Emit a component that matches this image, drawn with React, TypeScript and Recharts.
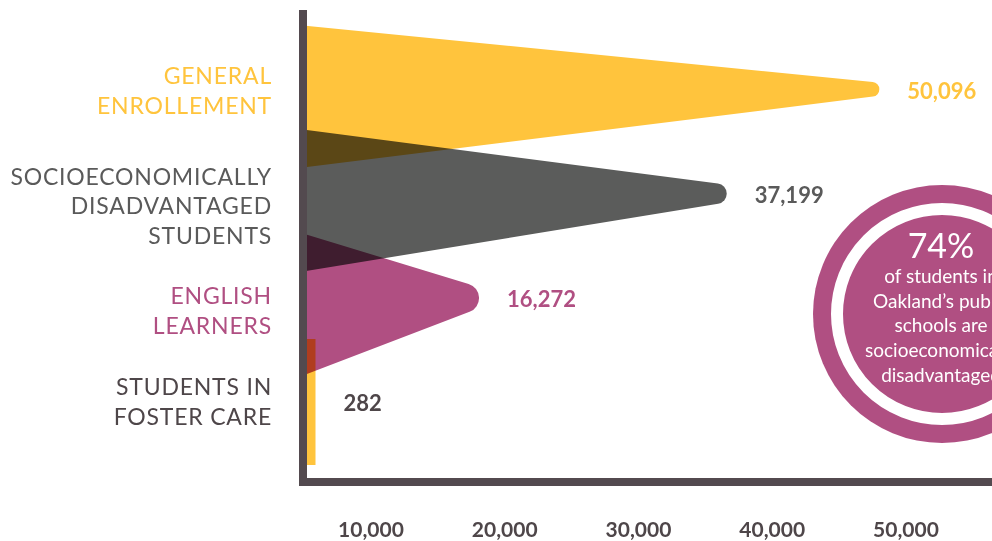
import React from 'react';
import { ComposedChart, Bar, XAxis, YAxis, LabelList } from 'recharts';

// ---- data ----
const categories = [
  'General Enrollement',
  'Socioeconomically Disadvantaged Students',
  'English Learners',
  'Students in Foster Care',
];
const categoryLabelLines = [
  ['GENERAL', 'ENROLLEMENT'],
  ['SOCIOECONOMICALLY', 'DISADVANTAGED', 'STUDENTS'],
  ['ENGLISH', 'LEARNERS'],
  ['STUDENTS IN', 'FOSTER CARE'],
];
const studentCounts = [50096, 37199, 16272, 282];
const axisTicks = [10000, 20000, 30000, 40000, 50000];
const calloutPercent = '74%';
const calloutLines = [
  'of students in',
  'Oakland\u2019s public',
  'schools are',
  'socioeconomically',
  'disadvantaged',
];

// ---- styles ----
const YELLOW = '#FFC43D';
const GRAY = '#5B5C5B';
const PURPLE = '#B04F82';
const DARK = '#534A4F';
const FONT = 'Lato, "Open Sans", sans-serif';

const barColors = [YELLOW, GRAY, PURPLE, YELLOW];
const textColors = [YELLOW, '#5A5A5A', PURPLE, '#4E4649'];
// small vertical adjustments of the category label blocks
const labelNudge = [0, 11, 12, -1];

const W = 992;
const H = 541;
const PLOT_LEFT = 303;
const PLOT_TOP = 14;
const X_AXIS_H = 59;

// value scale used by the wedges; its zero sits a little left of the axis line
const BAR_DOMAIN: [number, number] = [1394, 59616];
// scale used by the printed tick labels
const TICK_DOMAIN: [number, number] = [4916, 56430];

// bars shorter than this are drawn as a thin stub instead of a wedge
const MIN_WEDGE_PX = 40;
const STUB_PX = 12.5;
const STUB_HALF = 63;
const LEFT_HALF = 71;
const LEFT_SHIFT = 6.5;
const TIP_SHIFT = -1.5;
const LABEL_GAP = 28;

const data = categories.map((name, i) => ({
  name,
  value: studentCounts[i],
  fill: barColors[i],
}));

type Pt = { x: number; y: number };
const norm = (x: number, y: number): Pt => {
  const l = Math.hypot(x, y) || 1;
  return { x: x / l, y: y / l };
};

function filletTip(x0: number, yTop: number, yBot: number, ax: number, ay: number, r: number) {
  const u1 = norm(x0 - ax, yTop - ay);
  const u2 = norm(x0 - ax, yBot - ay);
  const cosA = Math.max(-1, Math.min(1, u1.x * u2.x + u1.y * u2.y));
  const half = Math.acos(cosA) / 2;
  const t = r / Math.tan(half);
  const d = r / Math.sin(half);
  const b = norm(u1.x + u2.x, u1.y + u2.y);
  return {
    t1: { x: ax + u1.x * t, y: ay + u1.y * t },
    t2: { x: ax + u2.x * t, y: ay + u2.y * t },
    c: { x: ax + b.x * d, y: ay + b.y * d },
  };
}

const isStub = (width: number) => width < MIN_WEDGE_PX;
const stubBase = (x: number, width: number) => Math.max(x, x + width);

const WedgeShape = (props: any) => {
  const { x, y, width, height, fill } = props;
  const cy = y + height / 2;
  const blend = { mixBlendMode: 'multiply' as const };
  if (isStub(width)) {
    return (
      <rect
        x={stubBase(x, width)}
        y={cy - STUB_HALF}
        width={STUB_PX}
        height={STUB_HALF * 2}
        fill={fill}
        style={blend}
      />
    );
  }
  const x0 = x;
  const yTop = cy + LEFT_SHIFT - LEFT_HALF;
  const yBot = cy + LEFT_SHIFT + LEFT_HALF;
  const xEnd = x + width;
  const ay = cy + TIP_SHIFT;
  const r = Math.max(5, 18 - 0.0185 * width);
  let ax = xEnd;
  let g = filletTip(x0, yTop, yBot, ax, ay, r);
  for (let k = 0; k < 5; k++) {
    ax += xEnd - (g.c.x + r);
    g = filletTip(x0, yTop, yBot, ax, ay, r);
  }
  const d = `M${x0},${yTop} L${g.t1.x},${g.t1.y} A${r},${r} 0 0 1 ${g.t2.x},${g.t2.y} L${x0},${yBot} Z`;
  return <path d={d} fill={fill} style={blend} />;
};

const ValueLabel = (props: any) => {
  const { x, y, width, height, value } = props;
  let i = props.index;
  if (typeof i !== 'number') i = studentCounts.indexOf(Number(value));
  const end = isStub(width) ? stubBase(x, width) + STUB_PX : x + width;
  return (
    <text
      x={end + LABEL_GAP}
      y={y + height / 2}
      dominantBaseline="central"
      fill={textColors[i] || DARK}
      fontFamily={FONT}
      fontWeight={700}
      fontSize={22}
    >
      {Number(value).toLocaleString('en-US')}
    </text>
  );
};

const CategoryTick = (props: any) => {
  const { x, y, payload } = props;
  const i = categories.indexOf(payload.value);
  const lines = categoryLabelLines[i] || [String(payload.value)];
  const lh = 29.5;
  const y0 = y - ((lines.length - 1) * lh) / 2 + (labelNudge[i] || 0);
  return (
    <text
      x={x}
      y={y0}
      textAnchor="end"
      dominantBaseline="central"
      fill={textColors[i]}
      fontFamily={FONT}
      fontSize={23}
      letterSpacing={0.8}
    >
      {lines.map((line, k) => (
        <tspan key={k} x={x} dy={k === 0 ? 0 : lh}>
          {line}
        </tspan>
      ))}
    </text>
  );
};

const Callout = () => {
  const cx = 942;
  const cy = 314;
  return (
    <svg
      width={W}
      height={H}
      style={{ position: 'absolute', left: 0, top: 0, pointerEvents: 'none' }}
    >
      <circle cx={cx} cy={cy} r={129} fill={PURPLE} />
      <circle cx={cx} cy={cy} r={105} fill="none" stroke="#FFFFFF" strokeWidth={12} />
      <text
        x={cx - 1}
        y={258}
        textAnchor="middle"
        fill="#FFFFFF"
        fontFamily={FONT}
        fontWeight={400}
        fontSize={34}
      >
        {calloutPercent}
      </text>
      {calloutLines.map((line, k) => (
        <text
          key={k}
          x={cx - 1}
          y={283 + k * 24.7}
          textAnchor="middle"
          fill="#FFFFFF"
          fontFamily={FONT}
          fontSize={19}
        >
          {line}
        </text>
      ))}
    </svg>
  );
};

export default function App() {
  return (
    <div style={{ position: 'relative', width: W, height: H, background: '#FFFFFF' }}>
      <style>{'body{margin:0}'}</style>
      <ComposedChart
        width={W}
        height={H}
        data={data}
        layout="vertical"
        margin={{ top: PLOT_TOP, right: 0, bottom: 0, left: 0 }}
        barCategoryGap={0}
      >
        <XAxis
          xAxisId="ticks"
          type="number"
          domain={TICK_DOMAIN}
          allowDataOverflow
          ticks={axisTicks}
          interval={0}
          height={X_AXIS_H}
          tickLine={false}
          tickSize={6}
          tickMargin={34}
          axisLine={{ stroke: DARK, strokeWidth: 8, strokeLinecap: 'square' }}
          tickFormatter={(v: number) => v.toLocaleString('en-US')}
          tick={{ fill: '#4E4649', fontSize: 21, fontWeight: 700, fontFamily: FONT }}
        />
        <XAxis
          xAxisId="bars"
          type="number"
          domain={BAR_DOMAIN}
          allowDataOverflow
          height={0}
          hide
        />
        <YAxis
          type="category"
          dataKey="name"
          width={PLOT_LEFT}
          padding={{ top: 24, bottom: 28 }}
          tickLine={false}
          tickSize={6}
          tickMargin={25}
          interval={0}
          axisLine={{ stroke: DARK, strokeWidth: 8, strokeLinecap: 'square' }}
          tick={<CategoryTick />}
        />
        <Bar
          xAxisId="bars"
          dataKey="value"
          shape={<WedgeShape />}
          isAnimationActive={false}
        >
          <LabelList dataKey="value" content={<ValueLabel />} />
        </Bar>
      </ComposedChart>
      <Callout />
    </div>
  );
}
